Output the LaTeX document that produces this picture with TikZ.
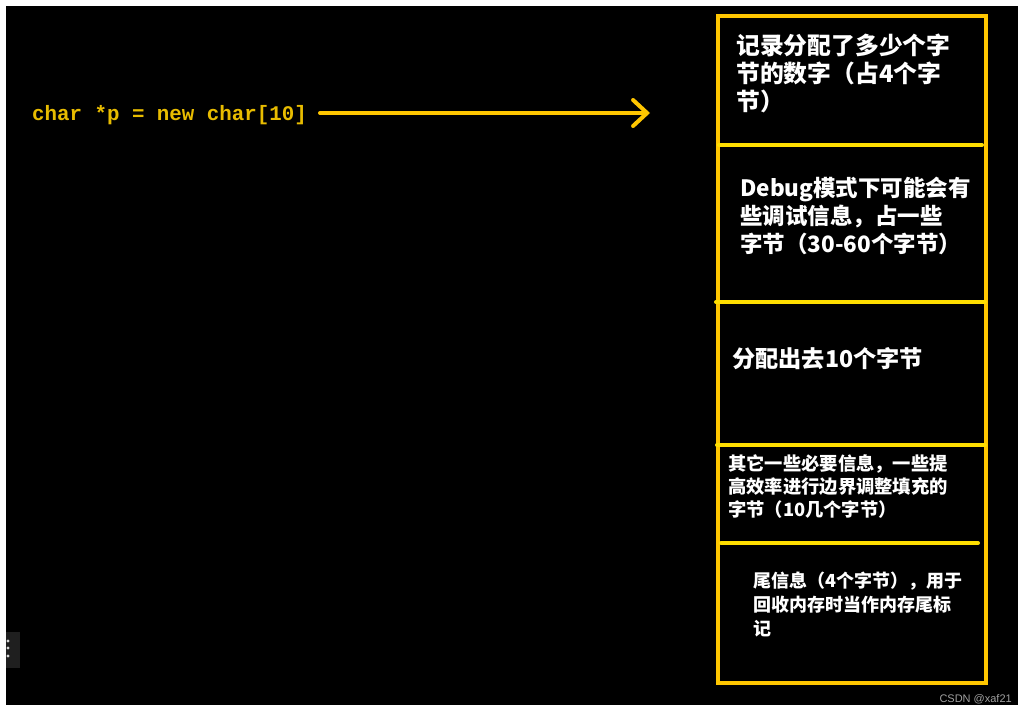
\documentclass[tikz,border=0pt]{standalone}
\usepackage{fontspec}
\setmainfont{Liberation Sans}
\newfontfamily\cjk{Noto Sans CJK SC}
\newfontfamily\codefont{Liberation Mono}
\usetikzlibrary{arrows.meta}
\definecolor{frameyellow}{RGB}{255,198,0}
\definecolor{divyellow}{RGB}{255,222,0}
\definecolor{codeyellow}{RGB}{232,188,0}
\definecolor{markgray}{RGB}{160,160,160}
\tikzset{
  framebox/.style={draw=frameyellow, line width=4pt},
  divider/.style={draw=divyellow, line width=4pt, line cap=round},
  boxtext/.style={text=white, inner sep=0pt, anchor=west, align=left},
  codetext/.style={text=codeyellow, inner sep=0pt, anchor=west, font=\codefont\bfseries\fontsize{20.8}{24}\selectfont},
  arrowline/.style={draw=frameyellow, line width=4pt, line cap=round, -{Straight Barb[length=14pt,width=26pt,line cap=round]}},
}
\begin{document}
\begin{tikzpicture}[x=1pt,y=-1pt]
\useasboundingbox (0,0) rectangle (1026,715);
\fill[white] (0,0) rectangle (1026,715);
\fill[black] (6,6) rectangle (1018,705);
% small artefact at left edge
\fill[black!88!white] (6,632) rectangle (20,668);
\foreach \yy in {641,648,656} \fill[white!85!black] (8,\yy) circle (1.6);
% memory block
\draw[framebox] (718,16) rectangle (986,683);
\draw[divider] (719,145) -- (982,145);
\draw[divider] (716,302) -- (985,302);
\draw[divider] (717,445) -- (985,445);
\draw[divider] (721,543) -- (978,543);
% texts in the block
\node[boxtext, font=\cjk\bfseries\fontsize{23.8}{28}\selectfont] (t1) at (736,73)
  {记录分配了多少个字\\节的数字（占4个字\\节）};
\node[boxtext, font=\cjk\bfseries\fontsize{22.5}{28}\selectfont] (t2) at (740,216)
  {Debug模式下可能会有\\些调试信息，占一些\\字节（30-60个字节）};
\node[boxtext, font=\cjk\bfseries\fontsize{23.2}{28}\selectfont] (t3) at (732,359)
  {分配出去10个字节};
\node[boxtext, font=\cjk\bfseries\fontsize{18.3}{23}\selectfont] (t4) at (728,487)
  {其它一些必要信息，一些提\\高效率进行边界调整填充的\\字节（10几个字节）};
\node[boxtext, font=\cjk\bfseries\fontsize{18}{24}\selectfont] (t5) at (753,604)
  {尾信息（4个字节），用于\\回收内存时当作内存尾标\\记};
% code and arrow
\node[codetext] (code) at (32,115) {char *p = new char[10]};
\coordinate (start) at (320,113);
\coordinate (tip) at (650,113);
\draw[arrowline] (start) -- (tip);
% watermark
\node[text=markgray, inner sep=0pt, anchor=east, font=\fontsize{11}{12}\selectfont] (wm) at (1012,699) {CSDN @xaf21};
\end{tikzpicture}
\end{document}
